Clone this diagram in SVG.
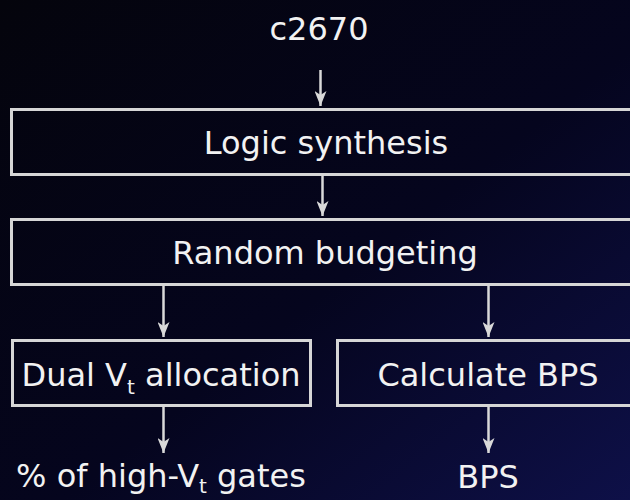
<svg xmlns="http://www.w3.org/2000/svg" width="630" height="500" viewBox="0 0 630 500">
  <defs>
    <linearGradient id="bg" x1="0" y1="0" x2="1" y2="1">
      <stop offset="0" stop-color="#04040c"/>
      <stop offset="0.55" stop-color="#05051e"/>
      <stop offset="1" stop-color="#0e1048"/>
    </linearGradient>
    <!-- arrowhead with a notched back, oriented along the line -->
    <marker id="arrow" viewBox="0 0 15 12" refX="15" refY="6" markerWidth="15" markerHeight="12" markerUnits="userSpaceOnUse" orient="auto">
      <path d="M0,0 L15,6 L0,12 L4,6 Z" fill="#d9d9d9"/>
    </marker>
    <style>
      .box { fill: none; stroke: #d6d6d6; stroke-width: 3; }
      .lbl { font-family: "DejaVu Sans", Verdana, sans-serif; font-size: 32px; fill: #f2f2f2; text-anchor: middle; }
      .sub { font-size: 20px; }
      .conn { stroke: #d9d9d9; stroke-width: 2.5; fill: none; }
    </style>
  </defs>

  <rect x="0" y="0" width="630" height="500" fill="url(#bg)"/>

  <g id="input">
    <text class="lbl" x="319" y="40">c2670</text>
  </g>

  <g id="logic-synthesis">
    <rect class="box" x="11.5" y="109.5" width="640" height="65"/>
    <text class="lbl" x="326" y="154">Logic synthesis</text>
  </g>

  <g id="random-budgeting">
    <rect class="box" x="11.5" y="219.5" width="640" height="65"/>
    <text class="lbl" x="325" y="264">Random budgeting</text>
  </g>

  <g id="dual-vt">
    <rect class="box" x="12.5" y="340.5" width="298" height="65"/>
    <text class="lbl" x="161" y="386">Dual V<tspan class="sub" dy="8">t</tspan><tspan dy="-8"> allocation</tspan></text>
  </g>

  <g id="calc-bps">
    <rect class="box" x="337.5" y="340.5" width="310" height="65"/>
    <text class="lbl" x="488" y="386">Calculate BPS</text>
  </g>

  <g id="out-high-vt">
    <text class="lbl" x="161" y="487">% of high-V<tspan class="sub" dy="6">t</tspan><tspan dy="-6"> gates</tspan></text>
  </g>

  <g id="out-bps">
    <text class="lbl" x="488" y="488">BPS</text>
  </g>

  <g id="connectors">
    <path class="conn" d="M320.5,70 L320.5,106" marker-end="url(#arrow)"/>
    <path class="conn" d="M322.5,175 L322.5,216" marker-end="url(#arrow)"/>
    <path class="conn" d="M163.5,285 L163.5,337" marker-end="url(#arrow)"/>
    <path class="conn" d="M488.5,285 L488.5,337" marker-end="url(#arrow)"/>
    <path class="conn" d="M163.5,406 L163.5,453" marker-end="url(#arrow)"/>
    <path class="conn" d="M488.5,406 L488.5,453" marker-end="url(#arrow)"/>
  </g>
</svg>
